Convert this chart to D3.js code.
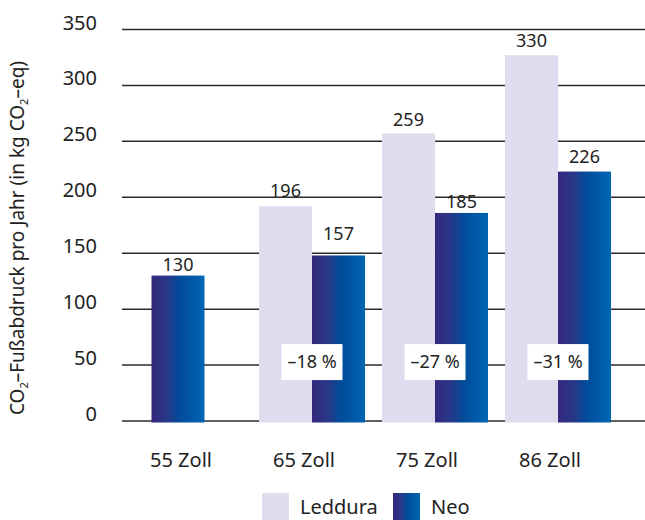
<!DOCTYPE html>
<html><head><meta charset="utf-8">
<script src="https://cdn.jsdelivr.net/npm/d3@7"></script>
<style>
html,body{margin:0;padding:0;background:#fff;}
svg{display:block;font-family:"Noto Sans","Open Sans",sans-serif;}
</style></head>
<body>
<svg id="chart" width="645" height="520"></svg>
<script>
const categories = ["55 Zoll", "65 Zoll", "75 Zoll", "86 Zoll"];
const series = ["Leddura", "Neo"];
// bar heights as drawn in the picture
const ledduraValues = [null, 192, 257, 327];
const neoValues = [130, 148, 186, 223];
// printed value labels
const ledduraLabels = [null, "196", "259", "330"];
const neoLabels = ["130", "157", "185", "226"];
const ledduraLabelValues = [null, 196, 259, 330];
const neoLabelValues = [130, 157, 185, 226];
const changeLabels = [null, "–18 %", "–27 %", "–31 %"];
const yTicks = [0, 50, 100, 150, 200, 250, 300, 350];

const svg = d3.select("#chart");
const W = 645, H = 520;
const ledColor = "#dfdcf0";
const textColor = "#222";

const defs = svg.append("defs");
const grad = defs.append("linearGradient").attr("id", "neoGrad")
  .attr("x1", "0%").attr("x2", "100%").attr("y1", "0%").attr("y2", "0%");
grad.append("stop").attr("offset", "0%").attr("stop-color", "#34287c");
grad.append("stop").attr("offset", "30%").attr("stop-color", "#283888");
grad.append("stop").attr("offset", "55%").attr("stop-color", "#004c9b");
grad.append("stop").attr("offset", "100%").attr("stop-color", "#0067b3");

const y = d3.scaleLinear().domain([0, 350]).range([421, 29.5]);
const x = d3.scaleBand().domain(categories).range([127.5, 619.5])
  .paddingInner(17 / 123).paddingOuter(8.5 / 123);
const inner = d3.scaleBand().domain(series).range([0, x.bandwidth()]);
const center = c => x(c) + x.bandwidth() / 2;

// gridlines
svg.append("g").selectAll("line").data(yTicks).join("line")
  .attr("x1", 122).attr("x2", W)
  .attr("y1", d => y(d)).attr("y2", d => y(d))
  .attr("stroke", "#2a2a2a").attr("stroke-width", 1.5);

// y tick labels
svg.append("g").selectAll("text").data(yTicks).join("text")
  .attr("x", 97).attr("y", d => y(d))
  .attr("text-anchor", "end")
  .attr("font-size", 20).attr("fill", textColor)
  .text(d => d);

// y title
const yt = svg.append("text")
  .attr("transform", "translate(24,238) rotate(-90)")
  .attr("text-anchor", "middle").attr("font-size", 19).attr("fill", textColor);
yt.append("tspan").text("CO");
yt.append("tspan").attr("font-size", 11).attr("dy", 4).text("2");
yt.append("tspan").attr("dy", -4).text("–Fußabdruck pro Jahr (in kg CO");
yt.append("tspan").attr("font-size", 11).attr("dy", 4).text("2");
yt.append("tspan").attr("dy", -4).text("–eq)");

const bw = inner.bandwidth();
// Leddura bars
const ledData = categories.map((c, i) => ({c, v: ledduraValues[i], lab: ledduraLabels[i], lv: ledduraLabelValues[i]})).filter(d => d.v != null);
svg.append("g").selectAll("rect").data(ledData).join("rect")
  .attr("x", d => x(d.c) + inner("Leddura"))
  .attr("width", bw)
  .attr("y", d => y(d.v)).attr("height", d => y(0) + 1.5 - y(d.v))
  .attr("fill", ledColor);

// Neo bars
const neoData = categories.map((c, i) => ({c, v: neoValues[i], lab: neoLabels[i], lv: neoLabelValues[i], solo: ledduraValues[i] == null}));
const neoX = d => d.solo ? center(d.c) - 11 - bw / 2 : x(d.c) + inner("Neo");
svg.append("g").selectAll("rect").data(neoData).join("rect")
  .attr("x", neoX)
  .attr("width", bw)
  .attr("y", d => y(d.v)).attr("height", d => y(0) + 1.5 - y(d.v))
  .attr("fill", "url(#neoGrad)");

// value labels
const labY = d => Math.min(y(d.v), y(d.lv)) - 5;
svg.append("g").selectAll("text").data(ledData).join("text")
  .attr("x", d => x(d.c) + inner("Leddura") + bw / 2)
  .attr("y", labY)
  .attr("text-anchor", "middle").attr("font-size", 18).attr("fill", textColor)
  .text(d => d.lab);
svg.append("g").selectAll("text").data(neoData).join("text")
  .attr("x", d => neoX(d) + bw / 2)
  .attr("y", labY)
  .attr("text-anchor", "middle").attr("font-size", 18).attr("fill", textColor)
  .text(d => d.lab);

// change boxes
const chData = categories.map((c, i) => ({c, t: changeLabels[i]})).filter(d => d.t);
const cg = svg.append("g").selectAll("g").data(chData).join("g")
  .attr("transform", d => `translate(${center(d.c)},${y(50) - 3})`);
cg.append("rect").attr("x", -30.5).attr("y", -18).attr("width", 61).attr("height", 36).attr("fill", "#fff");
cg.append("text").attr("text-anchor", "middle").attr("dy", "0.35em")
  .attr("font-size", 18).attr("fill", textColor).text(d => d.t);

// x labels
svg.append("g").selectAll("text").data(categories).join("text")
  .attr("x", d => center(d) - 8).attr("y", 467)
  .attr("text-anchor", "middle").attr("font-size", 20).attr("fill", textColor)
  .text(d => d);

// legend
const legend = [{n: "Leddura", f: ledColor, x: 262}, {n: "Neo", f: "url(#neoGrad)", x: 393}];
const lg = svg.append("g").selectAll("g").data(legend).join("g")
  .attr("transform", d => `translate(${d.x},493)`);
lg.append("rect").attr("width", 27).attr("height", 30).attr("fill", d => d.f);
lg.append("text").attr("x", 38).attr("y", 21).attr("font-size", 20).attr("fill", textColor).text(d => d.n);
</script>
</body></html>
